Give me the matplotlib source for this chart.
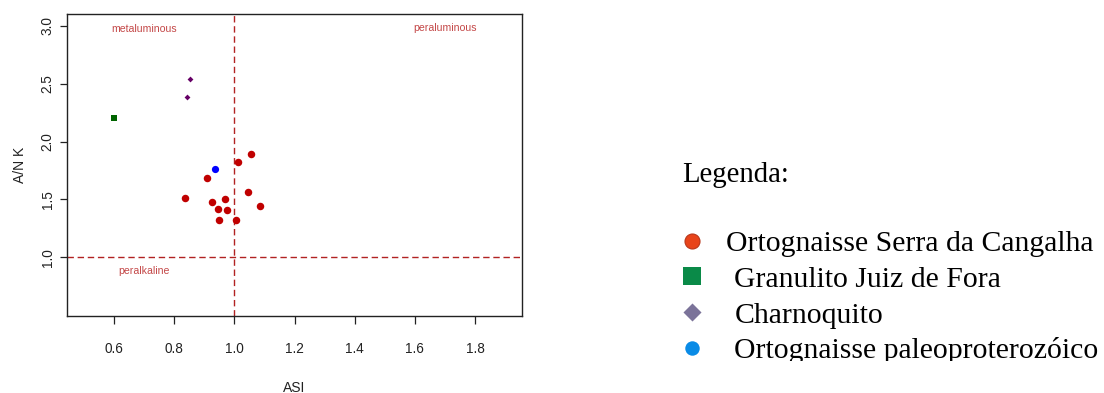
import matplotlib
matplotlib.use("Agg")
import matplotlib.pyplot as plt

plt.rcParams['font.family'] = ['Liberation Sans Narrow', 'Liberation Sans', 'DejaVu Sans']
plt.rcParams['lines.scale_dashes'] = False

# --- data -------------------------------------------------------------
ocs_asi = [0.835, 0.908, 0.926, 0.945, 0.949, 0.969, 0.975, 1.007, 1.011, 1.047, 1.054, 1.084]
ocs_ank = [1.510, 1.687, 1.478, 1.420, 1.325, 1.500, 1.410, 1.325, 1.826, 1.563, 1.890, 1.440]

gjf_asi = [0.600]
gjf_ank = [2.206]

charno_asi = [0.843, 0.854]
charno_ank = [2.382, 2.542]

paleo_asi = [0.935]
paleo_ank = [1.763]

x_ticks = [0.6, 0.8, 1.0, 1.2, 1.4, 1.6, 1.8]
y_ticks = [1.0, 1.5, 2.0, 2.5, 3.0]

field_labels = ['metaluminous', 'peraluminous', 'peralkaline']
field_x = [0.70, 1.70, 0.70]
field_y = [2.97, 2.98, 0.88]

legend_title = 'Legenda:'
legend_names = ['Ortognaisse Serra da Cangalha', 'Granulito Juiz de Fora',
                'Charnoquito', 'Ortognaisse paleoproterozóico']

# --- figure -----------------------------------------------------------
W, H = 1104, 393
fig = plt.figure(figsize=(W / 100, H / 100), dpi=100)
fig.patch.set_facecolor('white')

ax = fig.add_axes([67.3 / W, 1 - 315.7 / H, (521.7 - 67.3) / W, (315.7 - 14) / H])
ax.set_xlim(0.445, 1.955)
ax.set_ylim(0.496, 3.101)

line_col = '#B22222'
ax.axvline(1.0, color=line_col, lw=1.0, linestyle=(0, (4.6, 2.7)), zorder=1)
ax.axhline(1.0, color=line_col, lw=1.0, linestyle=(0, (4.6, 2.7)), zorder=1)

ax.plot(ocs_asi, ocs_ank, 'o', color='#C00000', ms=5.4, mew=0, zorder=3)
ax.plot(gjf_asi, gjf_ank, 's', color='#006400', ms=4.4, mew=0, zorder=3)
ax.plot(charno_asi, charno_ank, marker=[(0, 1), (1, 0), (0, -1), (-1, 0)],
        linestyle='none', color='#660066', ms=4.2, mew=0, zorder=3)
ax.plot(paleo_asi, paleo_ank, 'o', color='#0000FF', ms=5.2, mew=0, zorder=3)

for lab, fx, fy in zip(field_labels, field_x, field_y):
    ax.text(fx, fy, lab, color='#C44848', fontsize=7.6, ha='center', va='center')

ax.set_xticks(x_ticks)
ax.set_xticklabels([f'{v:.1f}' for v in x_ticks])
ax.set_yticks(y_ticks)
ax.set_yticklabels([f'{v:.1f}' for v in y_ticks], rotation=90, va='center')
ax.tick_params(axis='x', length=5.8, width=0.9, pad=13, labelsize=9.8, colors='#222222')
ax.tick_params(axis='y', length=5.0, width=0.9, pad=4, labelsize=9.8, colors='#222222')
for s in ax.spines.values():
    s.set_linewidth(1.0)
    s.set_color('#222222')

ax.set_xlabel('ASI', fontsize=10, color='#222222', labelpad=18)
ax.set_ylabel('A/N K', fontsize=10, color='#222222', labelpad=10)

# --- legend panel (pixel coordinates, clipped at the bottom) ------------
clip_bottom = 361
lax = fig.add_axes([0, 1 - clip_bottom / H, 1, clip_bottom / H])
lax.set_xlim(0, W)
lax.set_ylim(clip_bottom, 0)
lax.axis('off')

serif = ['Liberation Serif', 'DejaVu Serif']
lax.text(682, 181.7, legend_title, family=serif, fontsize=20.7, ha='left', va='baseline')

marker_x = 691.7
row0, row_step = 240.7, 35.7
styles = [
    dict(marker='o', ms=10.8, mfc='#E8441A', mec='#B8361A', mew=0.8),
    dict(marker='s', ms=12.3, mfc='#0A8A48', mec='#0A8A48', mew=0),
    dict(marker=[(0, 1), (1, 0), (0, -1), (-1, 0)], ms=13.0, mfc='#7B7399', mec='#7B7399', mew=0),
    dict(marker='o', ms=10.4, mfc='#0A8BE6', mec='#0A8BE6', mew=0),
]
text_x = [726, 734.3, 734.3, 734.3]
for i, (name, st) in enumerate(zip(legend_names, styles)):
    yc = row0 + i * row_step
    lax.plot([marker_x], [yc], linestyle='none', clip_on=False, **st)
    lax.text(text_x[i], yc + 10.5, name, family=serif, fontsize=21.4, ha='left',
             va='baseline', clip_on=True)

fig.savefig('out.png', dpi=100, facecolor='white')
